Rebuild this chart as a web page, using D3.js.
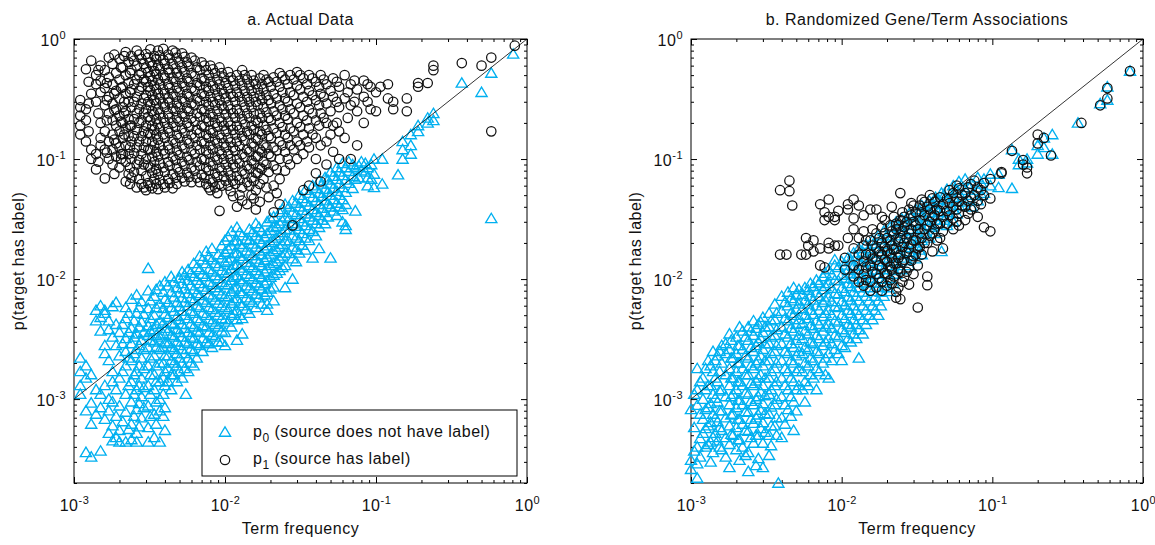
<!DOCTYPE html>
<html>
<head>
<meta charset="utf-8">
<script src="https://cdn.jsdelivr.net/npm/d3@7/dist/d3.min.js"></script>
<style>
  body { margin: 0; background: #fff; }
  svg text { font-family: "Liberation Sans", Arial, Helvetica, sans-serif; fill: #111; }
</style>
</head>
<body>
<svg id="chart" width="1155" height="545"></svg>
<script>
// Each row: [term frequency, [p(target has label) values of terms at that frequency]]
var actualP0 = [
  [0.0011,[0.0022,0.0017,0.0013,0.0011]],
  [0.0012,[0.0019,0.0015,0.0008,0.00036]],
  [0.0013,[0.0016,0.00093,0.00062,0.00033]],
  [0.0014,[0.0055,0.0045,0.0012,0.00075]],
  [0.0015,[0.006,0.0048,0.0037,0.0011,0.00085,0.00037]],
  [0.0016,[0.0055,0.0052,0.0028,0.0024,0.0013,0.00068]],
  [0.0017,[0.0045,0.0038,0.0021,0.001,0.0008,0.00052]],
  [0.0018,[0.0059,0.0033,0.0017,0.0014,0.00095,0.0006,0.00045]],
  [0.0019,[0.0064,0.0042,0.0028,0.0012,0.00072,0.00048]],
  [0.002,[0.0036,0.0023,0.0015,0.00088,0.00055,0.00044]],
  [0.0021,[0.0042,0.0029,0.0017,0.00065]],
  [0.0022,[0.0058,0.0047,0.0032,0.0025,0.0019,0.0011,0.00078,0.00044]],
  [0.0023,[0.0052,0.0036,0.0022,0.0013,0.00056]],
  [0.0024,[0.0068,0.0039,0.0029,0.0021,0.0014,0.00095,0.00062,0.00046]],
  [0.0025,[0.0045,0.0033,0.0024,0.0016,0.0011,0.00072]],
  [0.0026,[0.0074,0.0052,0.0035,0.0026,0.0017,0.0012,0.00082,0.00052,0.00044]],
  [0.0027,[0.0058,0.004,0.0028,0.0019,0.0013,0.00092,0.00059]],
  [0.0028,[0.0065,0.0044,0.0031,0.0022,0.0015,0.00105,0.0007]],
  [0.0029,[0.0051,0.0036,0.0026,0.0018,0.00125,0.00085]],
  [0.0031,[0.0123,0.008,0.0057,0.0041,0.0034,0.0027,0.0019,0.0013,0.00088,0.00058,0.00044]],
  [0.0032,[0.0066,0.0047,0.0037,0.0031,0.0022,0.0016,0.0011,0.00072]],
  [0.0034,[0.0072,0.005,0.0038,0.003,0.0023,0.0016,0.0012,0.00075,0.00048]],
  [0.0035,[0.0082,0.0058,0.0042,0.0034,0.0027,0.0019,0.0014,0.00095,0.00062]],
  [0.0037,[0.0088,0.0062,0.0045,0.0033,0.0026,0.002,0.0014,0.001,0.0008,0.00044]],
  [0.0039,[0.0078,0.0057,0.0043,0.0035,0.0027,0.002,0.0015,0.0011,0.00072]],
  [0.004,[0.0095,0.0068,0.0051,0.0039,0.003,0.0023,0.0017,0.0013,0.00085,0.00055]],
  [0.0042,[0.0088,0.0064,0.0048,0.0037,0.0029,0.0023,0.0018,0.0014]],
  [0.0044,[0.0105,0.0078,0.0058,0.0043,0.0034,0.0027,0.0021,0.0016,0.0012]],
  [0.0046,[0.0095,0.0071,0.0054,0.0042,0.0033,0.0026,0.002,0.0016]],
  [0.0048,[0.0085,0.0064,0.0049,0.0038,0.003,0.0024,0.0019,0.0014]],
  [0.005,[0.0102,0.0077,0.0059,0.0046,0.0036,0.0028,0.0022,0.0017]],
  [0.0052,[0.0115,0.0092,0.007,0.0054,0.0042,0.0033,0.0026,0.002,0.0015]],
  [0.0054,[0.0108,0.0083,0.0064,0.005,0.0039,0.003,0.0024,0.0018]],
  [0.0055,[0.0011]],
  [0.0057,[0.012,0.0098,0.0076,0.006,0.0047,0.0036,0.0029,0.0022,0.0017]],
  [0.0059,[0.0112,0.0088,0.0069,0.0054,0.0042,0.0033,0.0026,0.002]],
  [0.0062,[0.0135,0.0105,0.0082,0.0066,0.0052,0.004,0.0032,0.0025,0.0019]],
  [0.0065,[0.0125,0.0098,0.0076,0.006,0.0047,0.0037,0.0029,0.0022]],
  [0.0068,[0.0155,0.012,0.0092,0.0073,0.0058,0.0045,0.0036,0.0028]],
  [0.0071,[0.0145,0.011,0.0086,0.0067,0.0052,0.0041,0.0032,0.0025]],
  [0.0075,[0.017,0.0135,0.0105,0.0082,0.0064,0.005,0.004,0.003]],
  [0.0078,[0.0152,0.012,0.0094,0.0074,0.0058,0.0046,0.0036,0.0029]],
  [0.0082,[0.018,0.0145,0.0115,0.009,0.0071,0.0056,0.0044,0.0034,0.0027]],
  [0.0086,[0.0135,0.0107,0.0085,0.0067,0.0053,0.0042,0.0033]],
  [0.009,[0.016,0.0128,0.0101,0.008,0.0063,0.005,0.004,0.003]],
  [0.0095,[0.019,0.015,0.0118,0.0094,0.0075,0.006,0.0047,0.0037,0.003]],
  [0.01,[0.021,0.0168,0.0138,0.0112,0.009,0.0072,0.0058,0.0046,0.0036,0.0028]],
  [0.0105,[0.0225,0.0178,0.0142,0.0113,0.009,0.0071,0.0056,0.0044]],
  [0.011,[0.025,0.019,0.015,0.0122,0.0098,0.0079,0.0063,0.005,0.004]],
  [0.0115,[0.0205,0.0163,0.013,0.0104,0.0083,0.0066,0.0052]],
  [0.012,[0.027,0.021,0.0165,0.0132,0.0107,0.0086,0.0069,0.0055,0.0046,0.0031]],
  [0.0125,[0.0245,0.0195,0.0155,0.0124,0.0099,0.0079,0.0063,0.005]],
  [0.013,[0.023,0.0185,0.0148,0.0118,0.0095,0.0076,0.006,0.0047,0.0035]],
  [0.0138,[0.0215,0.0172,0.0138,0.011,0.0088,0.007,0.0056]],
  [0.0145,[0.026,0.021,0.0165,0.013,0.0105,0.0084,0.0067,0.0052]],
  [0.0152,[0.0245,0.0196,0.0157,0.0125,0.01,0.008,0.0064]],
  [0.016,[0.029,0.023,0.0185,0.0147,0.0118,0.0093,0.0075,0.0058]],
  [0.0168,[0.027,0.0215,0.0172,0.0138,0.011,0.0088,0.007]],
  [0.0175,[0.025,0.02,0.016,0.013,0.0104,0.0083,0.0062]],
  [0.0183,[0.0225,0.018,0.0144,0.0115,0.0092,0.0074]],
  [0.019,[0.03,0.024,0.019,0.0152,0.0122,0.0097,0.0078,0.0062,0.0055]],
  [0.02,[0.032,0.0255,0.0203,0.0162,0.013,0.0104,0.0083]],
  [0.021,[0.033,0.027,0.021,0.017,0.0135,0.0108,0.0086,0.0066]],
  [0.022,[0.0275,0.022,0.0176,0.014,0.0112]],
  [0.023,[0.036,0.029,0.023,0.0185,0.0148,0.0118]],
  [0.024,[0.038,0.0305,0.0244,0.0195,0.0156,0.0125]],
  [0.025,[0.042,0.033,0.026,0.021,0.0165,0.013,0.0085]],
  [0.0265,[0.04,0.032,0.0257,0.0205,0.0164]],
  [0.028,[0.045,0.036,0.029,0.023,0.0185,0.0148,0.01]],
  [0.0295,[0.043,0.0345,0.0276,0.022,0.0176,0.014]],
  [0.031,[0.05,0.04,0.032,0.026,0.021,0.0165]],
  [0.0325,[0.047,0.0375,0.03,0.024,0.0192]],
  [0.034,[0.055,0.044,0.035,0.028,0.022,0.0175]],
  [0.036,[0.052,0.041,0.033,0.026,0.021]],
  [0.038,[0.06,0.048,0.038,0.031,0.025,0.015]],
  [0.04,[0.057,0.045,0.036,0.029,0.023]],
  [0.042,[0.066,0.052,0.042,0.034,0.027,0.018]],
  [0.044,[0.062,0.049,0.039,0.031]],
  [0.046,[0.07,0.056,0.045,0.036,0.029]],
  [0.048,[0.067,0.053,0.042,0.033]],
  [0.05,[0.078,0.062,0.05,0.04,0.015]],
  [0.052,[0.072,0.057,0.046,0.037]],
  [0.055,[0.085,0.068,0.054,0.043,0.034]],
  [0.057,[0.078,0.062,0.05,0.04]],
  [0.06,[0.092,0.073,0.058,0.046,0.038,0.03]],
  [0.063,[0.085,0.067,0.053,0.042,0.028,0.026]],
  [0.066,[0.095,0.079,0.063]],
  [0.07,[0.09,0.072,0.057]],
  [0.073,[0.085,0.068,0.037]],
  [0.077,[0.088,0.07]],
  [0.08,[0.095,0.08]],
  [0.085,[0.092,0.078]],
  [0.088,[0.085,0.07,0.06]],
  [0.093,[0.09,0.068]],
  [0.097,[0.1,0.075,0.058]],
  [0.11,[0.1,0.062]],
  [0.14,[0.074]],
  [0.15,[0.14,0.12,0.1]],
  [0.17,[0.16,0.13,0.11]],
  [0.19,[0.19,0.17]],
  [0.22,[0.22,0.2]],
  [0.24,[0.24,0.21]],
  [0.37,[0.43]],
  [0.5,[0.36]],
  [0.58,[0.52,0.032]],
  [0.81,[0.75]]
];

var actualP1 = [
  [0.0011,[0.31,0.27,0.23,0.19,0.16]],
  [0.0012,[0.56,0.26,0.21,0.14]],
  [0.00125,[0.44,0.17,0.29]],
  [0.0013,[0.66,0.35,0.12,0.1]],
  [0.0014,[0.5,0.42,0.3,0.11,0.082]],
  [0.00145,[0.24,0.55,0.095]],
  [0.0015,[0.6,0.45,0.36,0.2,0.15,0.13]],
  [0.0016,[0.55,0.39,0.28,0.17,0.12,0.069]],
  [0.00165,[0.43,0.21,0.31,0.113]],
  [0.0017,[0.7,0.48,0.33,0.24,0.14,0.1]],
  [0.0018,[0.62,0.42,0.29,0.21,0.16,0.12,0.09]],
  [0.00185,[0.74,0.35,0.255,0.075,0.145]],
  [0.0019,[0.52,0.37,0.26,0.19,0.135,0.105]],
  [0.002,[0.68,0.46,0.32,0.23,0.17,0.125,0.085]],
  [0.00205,[0.58,0.39,0.205,0.11,0.1]],
  [0.0021,[0.58,0.4,0.27,0.2,0.15,0.11]],
  [0.00215,[0.72,0.3,0.16,0.24]],
  [0.0022,[0.78,0.5,0.35,0.25,0.18,0.13,0.095,0.065]],
  [0.0023,[0.64,0.43,0.3,0.215,0.155,0.11,0.075]],
  [0.00235,[0.52,0.36,0.19,0.125,0.085,0.062]],
  [0.0024,[0.72,0.55,0.38,0.27,0.19,0.14,0.1,0.07]],
  [0.0025,[0.66,0.42,0.3,0.215,0.155,0.112,0.078]],
  [0.0026,[0.8,0.6,0.46,0.33,0.24,0.175,0.125,0.09,0.058]],
  [0.0027,[0.74,0.5,0.37,0.26,0.2,0.14,0.098,0.068]],
  [0.0028,[0.68,0.52,0.4,0.29,0.21,0.155,0.11,0.08,0.062]],
  [0.0029,[0.62,0.46,0.32,0.24,0.17,0.125,0.09,0.058]],
  [0.003,[0.75,0.57,0.44,0.34,0.26,0.19,0.14,0.1,0.072,0.055]],
  [0.0031,[0.7,0.53,0.4,0.3,0.225,0.165,0.12,0.088,0.063]],
  [0.0032,[0.82,0.64,0.49,0.37,0.28,0.21,0.16,0.12,0.085,0.06]],
  [0.0033,[0.6,0.45,0.34,0.25,0.19,0.14,0.105,0.077,0.057]],
  [0.0034,[0.72,0.54,0.41,0.31,0.235,0.175,0.13,0.095,0.068]],
  [0.0035,[0.68,0.51,0.38,0.29,0.215,0.16,0.115,0.083,0.062]],
  [0.0036,[0.8,0.6,0.46,0.35,0.26,0.195,0.145,0.105,0.075,0.056]],
  [0.0037,[0.73,0.56,0.42,0.32,0.24,0.18,0.13,0.092,0.067]],
  [0.0039,[0.83,0.67,0.5,0.38,0.29,0.22,0.16,0.118,0.085,0.062]],
  [0.004,[0.62,0.47,0.35,0.27,0.2,0.15,0.11,0.078,0.058]],
  [0.0042,[0.74,0.56,0.42,0.32,0.24,0.18,0.13,0.095,0.068]],
  [0.0043,[0.69,0.52,0.39,0.295,0.22,0.165,0.12,0.088,0.063]],
  [0.0045,[0.8,0.62,0.47,0.35,0.265,0.2,0.145,0.105,0.075,0.057]],
  [0.0047,[0.77,0.57,0.44,0.33,0.25,0.185,0.135,0.098,0.07]],
  [0.0048,[0.7,0.52,0.39,0.29,0.22,0.16,0.118,0.085,0.062]],
  [0.005,[0.64,0.48,0.36,0.27,0.205,0.15,0.108,0.078]],
  [0.0052,[0.76,0.58,0.43,0.32,0.24,0.18,0.13,0.095,0.07]],
  [0.0054,[0.71,0.53,0.4,0.3,0.225,0.165,0.122,0.088,0.065]],
  [0.0056,[0.64,0.47,0.35,0.265,0.2,0.145,0.105,0.077]],
  [0.0058,[0.59,0.44,0.33,0.25,0.185,0.135,0.098,0.071]],
  [0.006,[0.7,0.52,0.39,0.29,0.22,0.16,0.118,0.085,0.064]],
  [0.0063,[0.66,0.49,0.37,0.28,0.205,0.15,0.11,0.08]],
  [0.0065,[0.58,0.43,0.32,0.24,0.175,0.13,0.095,0.07]],
  [0.0068,[0.55,0.41,0.305,0.225,0.165,0.12,0.088,0.064]],
  [0.007,[0.64,0.47,0.35,0.26,0.19,0.14,0.1,0.074]],
  [0.0073,[0.6,0.45,0.335,0.25,0.185,0.135,0.098,0.07]],
  [0.0075,[0.55,0.4,0.3,0.22,0.16,0.118,0.085,0.062]],
  [0.0078,[0.5,0.37,0.275,0.205,0.15,0.11,0.08,0.058]],
  [0.008,[0.6,0.44,0.33,0.24,0.175,0.13,0.095,0.068,0.055]],
  [0.0083,[0.56,0.41,0.3,0.225,0.165,0.12,0.088,0.064]],
  [0.0086,[0.52,0.38,0.28,0.2,0.145,0.105,0.076,0.058]],
  [0.0089,[0.46,0.34,0.25,0.185,0.135,0.098,0.071,0.052]],
  [0.0092,[0.58,0.42,0.31,0.22,0.16,0.118,0.085,0.062,0.037]],
  [0.0095,[0.52,0.38,0.28,0.205,0.15,0.11,0.08,0.06]],
  [0.0098,[0.48,0.35,0.26,0.19,0.135,0.1,0.072]],
  [0.0101,[0.43,0.32,0.235,0.17,0.125,0.09,0.066]],
  [0.0105,[0.53,0.39,0.28,0.205,0.15,0.11,0.08,0.06]],
  [0.0109,[0.48,0.35,0.26,0.19,0.138,0.1,0.073,0.054]],
  [0.0113,[0.45,0.33,0.24,0.175,0.125,0.09,0.066,0.049]],
  [0.0117,[0.41,0.3,0.22,0.16,0.117,0.085,0.062]],
  [0.012,[0.5,0.36,0.26,0.19,0.14,0.1,0.072,0.04]],
  [0.0125,[0.45,0.33,0.24,0.175,0.128,0.092,0.067,0.05]],
  [0.013,[0.55,0.41,0.3,0.215,0.155,0.11,0.08,0.058,0.045]],
  [0.0135,[0.5,0.37,0.27,0.195,0.143,0.104,0.075]],
  [0.014,[0.46,0.33,0.24,0.17,0.12,0.088,0.064,0.042]],
  [0.0145,[0.41,0.3,0.22,0.16,0.115,0.083,0.06]],
  [0.015,[0.5,0.37,0.27,0.19,0.135,0.097,0.07,0.05]],
  [0.0155,[0.45,0.33,0.24,0.175,0.127,0.092,0.066,0.047]],
  [0.016,[0.42,0.3,0.21,0.15,0.105,0.077,0.055,0.038]],
  [0.0165,[0.38,0.28,0.2,0.145,0.105,0.076]],
  [0.017,[0.47,0.34,0.24,0.17,0.12,0.085,0.062,0.044]],
  [0.0175,[0.42,0.31,0.22,0.16,0.115,0.083]],
  [0.018,[0.5,0.38,0.27,0.19,0.13,0.095,0.068]],
  [0.0188,[0.46,0.34,0.245,0.175,0.125,0.09,0.058]],
  [0.0195,[0.44,0.31,0.22,0.155,0.11,0.078,0.048]],
  [0.0202,[0.4,0.29,0.21,0.15,0.105]],
  [0.021,[0.48,0.35,0.25,0.18,0.125,0.088,0.06,0.036]],
  [0.022,[0.44,0.32,0.23,0.165,0.118,0.082,0.052]],
  [0.023,[0.52,0.4,0.28,0.2,0.14,0.1,0.068,0.042]],
  [0.024,[0.49,0.36,0.26,0.185,0.13]],
  [0.025,[0.46,0.32,0.23,0.16,0.115,0.08]],
  [0.026,[0.42,0.3,0.215,0.15,0.1]],
  [0.027,[0.5,0.36,0.26,0.18,0.13,0.09]],
  [0.028,[0.028]],
  [0.0285,[0.46,0.34,0.24,0.17,0.12]],
  [0.03,[0.53,0.41,0.29,0.2,0.14,0.1]],
  [0.0315,[0.5,0.38,0.27,0.185,0.13]],
  [0.033,[0.47,0.33,0.23,0.16,0.11,0.055]],
  [0.035,[0.42,0.3,0.21,0.14]],
  [0.036,[0.5,0.37,0.26,0.18,0.125,0.06]],
  [0.038,[0.47,0.34,0.24,0.16]],
  [0.04,[0.44,0.31,0.21,0.15,0.1,0.076]],
  [0.042,[0.4,0.28,0.19]],
  [0.043,[0.5,0.35,0.24,0.13,0.065]],
  [0.045,[0.46,0.33,0.22]],
  [0.047,[0.42,0.29,0.2,0.14,0.09]],
  [0.05,[0.37,0.25,0.16]],
  [0.052,[0.47,0.33,0.19,0.115]],
  [0.055,[0.44,0.3,0.2]],
  [0.057,[0.4,0.27,0.17,0.1]],
  [0.062,[0.5,0.32,0.15]],
  [0.065,[0.36,0.22]],
  [0.068,[0.42,0.28,0.1]],
  [0.072,[0.45,0.3]],
  [0.075,[0.38,0.25,0.13]],
  [0.083,[0.45,0.33,0.2]],
  [0.088,[0.42,0.3]],
  [0.092,[0.4,0.26]],
  [0.1,[0.36,0.25]],
  [0.107,[0.4]],
  [0.12,[0.42,0.32]],
  [0.13,[0.3,0.26]],
  [0.16,[0.32,0.25]],
  [0.19,[0.4,0.43]],
  [0.22,[0.43]],
  [0.24,[0.55,0.6]],
  [0.37,[0.63]],
  [0.5,[0.6]],
  [0.58,[0.7,0.17]],
  [0.83,[0.88]]
];

var randomP0 = [
  [0.001,[0.00082,0.00031,0.00026]],
  [0.00105,[0.0011,0.00058,0.00037]],
  [0.0011,[0.0018,0.0012,0.00089,0.0004,0.00029,0.00022]],
  [0.00115,[0.0014,0.00075,0.00047,0.00033]],
  [0.0012,[0.0015,0.001,0.00068,0.00052]],
  [0.00125,[0.0018,0.0012,0.00082,0.00057,0.0004]],
  [0.0013,[0.0021,0.0013,0.00085,0.0006,0.00042]],
  [0.00135,[0.0019,0.0013,0.00092,0.00064,0.00044,0.0003]],
  [0.0014,[0.0025,0.0017,0.0011,0.00075,0.00048,0.00036]],
  [0.00145,[0.0021,0.0015,0.00102,0.0007,0.00052]],
  [0.0015,[0.0023,0.0014,0.00095,0.00065,0.00045]],
  [0.00155,[0.0025,0.0017,0.00117,0.0008,0.00058,0.0004]],
  [0.0016,[0.0028,0.002,0.0012,0.0008,0.00055,0.00038]],
  [0.0017,[0.0029,0.0024,0.0016,0.00105,0.0007,0.00048,0.00033]],
  [0.0018,[0.0035,0.0026,0.0018,0.0013,0.0009,0.0006,0.00042,0.00027]],
  [0.00185,[0.0031,0.0022,0.0015,0.00105,0.00074,0.00051]],
  [0.0019,[0.0022,0.0015,0.0011,0.00075,0.0005]],
  [0.002,[0.0033,0.0024,0.0017,0.0012,0.00085,0.00058,0.00038]],
  [0.00205,[0.0028,0.002,0.0014,0.00098,0.00068,0.00046]],
  [0.0021,[0.004,0.0028,0.002,0.0014,0.00098,0.00068,0.00046,0.00031]],
  [0.0022,[0.0037,0.0026,0.0018,0.0013,0.0009,0.00062,0.0004]],
  [0.0023,[0.0033,0.0023,0.0016,0.00113,0.00079,0.00055,0.00034]],
  [0.0024,[0.004,0.0031,0.0022,0.0016,0.0011,0.00078,0.00054,0.00036,0.00025]],
  [0.0025,[0.0037,0.0027,0.0019,0.00135,0.00096,0.00068,0.00048]],
  [0.0026,[0.0045,0.0034,0.0025,0.0018,0.0013,0.0009,0.00063,0.00043]],
  [0.0027,[0.0039,0.0028,0.002,0.00142,0.001,0.0007,0.0005,0.00028]],
  [0.0028,[0.0042,0.003,0.0021,0.0015,0.00105,0.00074,0.0005,0.00032]],
  [0.0029,[0.0044,0.0032,0.0023,0.0016,0.00115,0.00081,0.00057]],
  [0.003,[0.0048,0.0036,0.0026,0.0019,0.0013,0.00092,0.00064,0.00043,0.00027]],
  [0.0031,[0.004,0.0029,0.0021,0.0015,0.00107,0.00076,0.00053]],
  [0.0033,[0.0052,0.004,0.0029,0.0021,0.0015,0.0011,0.00075,0.0005,0.00034]],
  [0.0034,[0.0045,0.0033,0.0024,0.0017,0.0012,0.00086,0.0006,0.00041]],
  [0.0036,[0.0062,0.0046,0.0034,0.0025,0.0018,0.0013,0.0009,0.0006]],
  [0.0037,[0.0052,0.0038,0.0028,0.002,0.0014,0.001,0.0007,0.0005]],
  [0.0038,[0.0002]],
  [0.004,[0.0072,0.0054,0.004,0.0029,0.0021,0.0015,0.00105,0.0007,0.00048]],
  [0.0042,[0.0064,0.0047,0.0035,0.0025,0.0018,0.0013,0.0009,0.00062]],
  [0.0044,[0.0078,0.006,0.0045,0.0033,0.0024,0.0017,0.0012,0.00082]],
  [0.0046,[0.0069,0.0052,0.0039,0.0029,0.0021,0.0015,0.00105,0.00072]],
  [0.0048,[0.0085,0.0066,0.005,0.0037,0.0027,0.002,0.0014,0.00095,0.00055]],
  [0.005,[0.0074,0.0056,0.0042,0.0031,0.0023,0.0017,0.0012,0.0008]],
  [0.0052,[0.0082,0.0062,0.0046,0.0034,0.0025,0.0018,0.0013]],
  [0.0055,[0.0075,0.0057,0.0043,0.0032,0.0024,0.0017,0.0012]],
  [0.0057,[0.0085,0.0066,0.005,0.0037,0.0027,0.002,0.0014,0.00095]],
  [0.006,[0.0081,0.0062,0.0047,0.0035,0.0026,0.0019,0.0013]],
  [0.0062,[0.0092,0.0072,0.0055,0.0041,0.003,0.0022,0.0016]],
  [0.0065,[0.0087,0.0067,0.0051,0.0039,0.0029,0.0021,0.0015]],
  [0.0068,[0.0098,0.0077,0.006,0.0045,0.0034,0.0025,0.0018,0.0012]],
  [0.0071,[0.0093,0.0072,0.0055,0.0042,0.0032,0.0024,0.0017]],
  [0.0075,[0.0105,0.0082,0.0064,0.0049,0.0037,0.0028,0.002]],
  [0.0078,[0.0112,0.0087,0.0067,0.0052,0.004,0.003,0.0022,0.0016]],
  [0.0082,[0.012,0.0092,0.0071,0.0055,0.0042,0.0032,0.0024,0.0015]],
  [0.0086,[0.0108,0.0084,0.0065,0.005,0.0039,0.0029,0.0021]],
  [0.009,[0.0145,0.013,0.0098,0.0076,0.0059,0.0045,0.0034,0.0026]],
  [0.0095,[0.0125,0.0097,0.0075,0.0058,0.0044,0.0033,0.0024]],
  [0.01,[0.014,0.0108,0.0084,0.0065,0.005,0.0038,0.0028,0.0021]],
  [0.0105,[0.0131,0.0102,0.0079,0.0061,0.0047,0.0036,0.0027]],
  [0.011,[0.015,0.0118,0.0092,0.0071,0.0055,0.0042,0.0032]],
  [0.0115,[0.0145,0.0112,0.0087,0.0067,0.0052,0.004,0.003]],
  [0.012,[0.0165,0.0128,0.01,0.0078,0.006,0.0046,0.0035]],
  [0.0125,[0.0155,0.012,0.0093,0.0072,0.0055,0.0042,0.0032]],
  [0.013,[0.018,0.014,0.011,0.0085,0.0066,0.005,0.0038,0.0022]],
  [0.0138,[0.0168,0.013,0.0101,0.0078,0.006,0.0046,0.0035]],
  [0.0145,[0.0195,0.0152,0.012,0.0093,0.0072,0.0055,0.0042]],
  [0.0152,[0.018,0.014,0.0109,0.0085,0.0066,0.005]],
  [0.016,[0.021,0.0165,0.013,0.0102,0.0079,0.006,0.0046]],
  [0.0167,[0.0197,0.0153,0.0119,0.0093,0.0072,0.0055]],
  [0.0175,[0.023,0.018,0.014,0.011,0.0086,0.0066,0.005]],
  [0.0182,[0.0213,0.0165,0.0129,0.01,0.0078,0.006]],
  [0.019,[0.025,0.0195,0.015,0.012,0.0093,0.0072]],
  [0.02,[0.023,0.018,0.014,0.011,0.0085]],
  [0.021,[0.027,0.021,0.0165,0.013,0.0101,0.0079]],
  [0.022,[0.025,0.0195,0.0152,0.0118,0.0092]],
  [0.023,[0.03,0.023,0.018,0.014,0.011]],
  [0.024,[0.0275,0.0215,0.0167,0.013]],
  [0.025,[0.032,0.025,0.0195,0.015,0.012]],
  [0.0265,[0.03,0.0235,0.0183,0.0143]],
  [0.028,[0.035,0.028,0.022,0.017,0.013]],
  [0.029,[0.033,0.026,0.02,0.0157]],
  [0.031,[0.038,0.03,0.024,0.019,0.0148]],
  [0.033,[0.037,0.029,0.0225,0.0175]],
  [0.034,[0.041,0.033,0.026,0.021,0.016]],
  [0.036,[0.04,0.031,0.024]],
  [0.038,[0.045,0.036,0.028,0.022]],
  [0.04,[0.043,0.034,0.027]],
  [0.042,[0.048,0.039,0.031,0.024]],
  [0.044,[0.046,0.036,0.029]],
  [0.046,[0.052,0.042,0.034,0.017]],
  [0.048,[0.05,0.039,0.031]],
  [0.05,[0.056,0.045,0.036,0.028]],
  [0.055,[0.06,0.048,0.038,0.03]],
  [0.058,[0.055,0.044,0.035]],
  [0.06,[0.065,0.052,0.041]],
  [0.066,[0.068,0.055,0.044]],
  [0.07,[0.058,0.046]],
  [0.073,[0.062,0.05,0.04]],
  [0.08,[0.07,0.055,0.045]],
  [0.085,[0.062,0.05]],
  [0.088,[0.068,0.052]],
  [0.097,[0.075,0.06]],
  [0.11,[0.075,0.058]],
  [0.135,[0.12,0.057]],
  [0.15,[0.1,0.09]],
  [0.17,[0.1,0.093]],
  [0.2,[0.11,0.13]],
  [0.22,[0.15,0.125]],
  [0.25,[0.16,0.11]],
  [0.37,[0.2]],
  [0.52,[0.29]],
  [0.58,[0.4,0.31]],
  [0.82,[0.54]]
];

var randomP1 = [
  [0.0039,[0.055,0.016]],
  [0.0043,[0.016]],
  [0.0045,[0.066,0.054]],
  [0.0047,[0.041]],
  [0.0054,[0.016]],
  [0.0058,[0.022,0.016]],
  [0.006,[0.019]],
  [0.0065,[0.017,0.021]],
  [0.0072,[0.018,0.013,0.042]],
  [0.0077,[0.0125,0.031,0.036]],
  [0.0082,[0.046,0.033,0.018,0.02]],
  [0.009,[0.019,0.033,0.031]],
  [0.0095,[0.037,0.019]],
  [0.0105,[0.015,0.012]],
  [0.011,[0.022,0.038,0.042]],
  [0.012,[0.046,0.026,0.032,0.018,0.013,0.0105]],
  [0.013,[0.041,0.022,0.016,0.012,0.0095]],
  [0.014,[0.034,0.025,0.019,0.014,0.011,0.0088]],
  [0.0145,[0.021,0.016,0.0125,0.0098]],
  [0.0155,[0.038,0.021,0.016,0.013,0.0095,0.008]],
  [0.016,[0.026,0.019,0.0148,0.0115]],
  [0.017,[0.038,0.024,0.018,0.0145,0.011,0.0085]],
  [0.0178,[0.022,0.017,0.013,0.0102]],
  [0.0185,[0.033,0.027,0.02,0.016,0.0125,0.0095,0.008]],
  [0.0193,[0.031,0.024,0.0185,0.0145,0.0112]],
  [0.02,[0.022,0.017,0.014,0.011,0.0088]],
  [0.021,[0.028,0.021,0.0163,0.0127,0.0098]],
  [0.0215,[0.04,0.025,0.019,0.015,0.012,0.0092]],
  [0.0222,[0.033,0.0235,0.0175,0.0135,0.0105]],
  [0.023,[0.029,0.026,0.018,0.0135,0.0078,0.007]],
  [0.0238,[0.028,0.0205,0.015,0.0122,0.0085]],
  [0.0245,[0.052,0.031,0.022,0.016,0.0115,0.0068]],
  [0.0253,[0.036,0.025,0.0185,0.0138,0.0095]],
  [0.026,[0.033,0.027,0.02,0.0145,0.0105]],
  [0.027,[0.03,0.022,0.0165,0.0115]],
  [0.028,[0.038,0.024,0.018,0.0125,0.009]],
  [0.029,[0.043,0.034,0.026,0.0195,0.0142]],
  [0.03,[0.041,0.03,0.021,0.0155,0.011]],
  [0.031,[0.036,0.028,0.021,0.016]],
  [0.032,[0.026,0.018,0.013,0.0058]],
  [0.033,[0.041,0.031,0.024,0.0185]],
  [0.034,[0.046,0.036,0.022,0.016]],
  [0.0355,[0.044,0.034,0.026,0.02]],
  [0.037,[0.04,0.028,0.02,0.0105,0.0089]],
  [0.0385,[0.05,0.038,0.03,0.023]],
  [0.04,[0.047,0.033,0.024,0.017]],
  [0.0415,[0.044,0.034,0.026]],
  [0.043,[0.038,0.029,0.021]],
  [0.045,[0.048,0.037,0.029,0.022]],
  [0.047,[0.042,0.033,0.025,0.018]],
  [0.05,[0.047,0.037,0.029]],
  [0.052,[0.055,0.043,0.034]],
  [0.055,[0.052,0.04,0.032,0.026]],
  [0.058,[0.06,0.047,0.038,0.03]],
  [0.06,[0.057,0.044,0.035,0.028]],
  [0.063,[0.05,0.041]],
  [0.066,[0.052,0.04,0.031]],
  [0.069,[0.058,0.045,0.035]],
  [0.072,[0.062,0.048,0.038]],
  [0.076,[0.066,0.05,0.04]],
  [0.08,[0.058,0.045,0.033]],
  [0.084,[0.055,0.042]],
  [0.088,[0.063,0.05,0.027]],
  [0.097,[0.068,0.047,0.025]],
  [0.115,[0.078,0.076]],
  [0.135,[0.117]],
  [0.16,[0.098,0.09]],
  [0.17,[0.085,0.076]],
  [0.2,[0.135,0.16]],
  [0.22,[0.15]],
  [0.245,[0.107]],
  [0.39,[0.2]],
  [0.52,[0.28]],
  [0.58,[0.39,0.32]],
  [0.82,[0.54]]
];

var panelTitles = ["a. Actual Data", "b. Randomized Gene/Term Associations"];
var xLabel = "Term frequency";
var yLabel = "p(target has label)";
var legendLabels = [["p", "0", " (source does not have label)"], ["p", "1", " (source has label)"]];
var majorTicks = [1e-3, 1e-2, 1e-1, 1];
var tickExponents = ["-3", "-2", "-1", "0"];
var xDomain = [1e-3, 1];
var yDomain = [2e-4, 1];

var cyan = "#00b0f0";
var plotTop = 39, plotBottom = 483;
var svg = d3.select("#chart");

function flat(rows) {
  return rows.flatMap(function(r) { return r[1].map(function(v) { return {x: r[0], y: v}; }); });
}

function minorTicks(domain) {
  var out = [];
  for (var k = -4; k < 0; k++) {
    for (var m = 2; m <= 9; m++) {
      var v = m * Math.pow(10, k);
      if (v >= domain[0] && v <= domain[1]) out.push(v);
    }
  }
  return out;
}

var triPath = "M0,-5.2L5.6,4.2L-5.6,4.2Z";

function powerLabel(sel) {
  sel.each(function(d) {
    var t = d3.select(this);
    t.text(null);
    t.append("tspan").text("10");
    t.append("tspan").attr("dy", -7).attr("font-size", 11)
      .text(tickExponents[majorTicks.indexOf(d)]);
  });
}

function drawPanel(cfg, i) {
  var x = d3.scaleLog().domain(xDomain).range([cfg.left, cfg.right]);
  var y = d3.scaleLog().domain(yDomain).range([plotBottom, plotTop]);
  var g = svg.append("g").attr("class", "panel" + i);

  // inward ticks on all four sides, MATLAB box style
  var sides = [
    {axis: d3.axisBottom(x), at: [0, plotBottom], dir: "x"},
    {axis: d3.axisTop(x), at: [0, plotTop], dir: "x"},
    {axis: d3.axisLeft(y), at: [cfg.left, 0], dir: "y"},
    {axis: d3.axisRight(y), at: [cfg.right, 0], dir: "y"}
  ];
  sides.forEach(function(s, j) {
    var dom = s.dir === "x" ? xDomain : yDomain;
    var minor = g.append("g").attr("transform", "translate(" + s.at + ")")
      .call(s.axis.tickValues(minorTicks(dom)).tickSize(-3).tickSizeOuter(0).tickFormat(""));
    minor.select(".domain").remove();
    var major = g.append("g").attr("transform", "translate(" + s.at + ")")
      .call(s.axis.tickValues(majorTicks).tickSize(-6).tickSizeOuter(0)
        .tickFormat(j === 0 || j === 2 ? function(d) { return d; } : ""))
      .attr("font-size", 16).attr("font-family", null);
    major.select(".domain").remove();
    if (j === 0) {
      major.selectAll(".tick text").attr("y", 28).attr("dy", null)
        .style("letter-spacing", "0.5px").call(powerLabel);
    }
    if (j === 2) {
      major.selectAll(".tick text").attr("x", -8).attr("y", 6).attr("dy", null)
        .style("letter-spacing", "0.5px").call(powerLabel);
    }
  });
  g.selectAll(".tick line").attr("stroke", "#000");

  g.append("rect")
    .attr("x", cfg.left).attr("y", plotTop)
    .attr("width", cfg.right - cfg.left).attr("height", plotBottom - plotTop)
    .attr("fill", "none").attr("stroke", "#000").attr("stroke-width", 1);

  // triangles (p0) first, circles (p1) on top
  g.append("g").selectAll("path")
    .data(flat(cfg.p0))
    .enter().append("path")
    .attr("d", triPath)
    .attr("transform", function(d) { return "translate(" + x(d.x) + "," + y(d.y) + ")"; })
    .attr("fill", "none").attr("stroke", cyan).attr("stroke-width", 1.35);

  g.append("g").selectAll("circle")
    .data(flat(cfg.p1))
    .enter().append("circle")
    .attr("cx", function(d) { return x(d.x); })
    .attr("cy", function(d) { return y(d.y); })
    .attr("r", 4.7)
    .attr("fill", "none").attr("stroke", "#111").attr("stroke-width", 1.25);

  // y = x reference line
  g.append("line")
    .attr("x1", x(1e-3)).attr("y1", y(1e-3))
    .attr("x2", x(1)).attr("y2", y(1))
    .attr("stroke", "#000").attr("stroke-width", 0.8);

  var mid = (cfg.left + cfg.right) / 2;
  g.append("text").attr("x", mid).attr("y", 25).attr("text-anchor", "middle")
    .attr("font-size", 16).style("letter-spacing", "0.5px").text(panelTitles[i]);
  g.append("text").attr("x", mid).attr("y", 534).attr("text-anchor", "middle")
    .attr("font-size", 16).style("letter-spacing", "0.5px").text(xLabel);
  g.append("text")
    .attr("transform", "translate(" + (cfg.left - 50) + "," + ((plotTop + plotBottom) / 2) + ") rotate(-90)")
    .attr("text-anchor", "middle").attr("font-size", 16).style("letter-spacing", "0.5px")
    .text(yLabel);

  if (cfg.legend) {
    var lg = g.append("g");
    lg.append("rect").attr("x", 202).attr("y", 410).attr("width", 315).attr("height", 66)
      .attr("fill", "#fff").attr("stroke", "#000").attr("stroke-width", 1);
    lg.append("path").attr("d", triPath).attr("transform", "translate(225,432)")
      .attr("fill", "none").attr("stroke", cyan).attr("stroke-width", 1.35);
    lg.append("circle").attr("cx", 225).attr("cy", 460).attr("r", 4.7)
      .attr("fill", "none").attr("stroke", "#111").attr("stroke-width", 1.25);
    legendLabels.forEach(function(l, k) {
      var t = lg.append("text").attr("x", 253).attr("y", 437 + k * 27)
        .attr("font-size", 16).style("letter-spacing", "0.5px");
      t.append("tspan").text(l[0]);
      t.append("tspan").attr("dy", 5).attr("font-size", 12).text(l[1]);
      t.append("tspan").attr("dy", -5).text(l[2]);
    });
  }
}

[
  {left: 74, right: 527, p0: actualP0, p1: actualP1, legend: true},
  {left: 691, right: 1143, p0: randomP0, p1: randomP1, legend: false}
].forEach(drawPanel);
</script>
</body>
</html>
